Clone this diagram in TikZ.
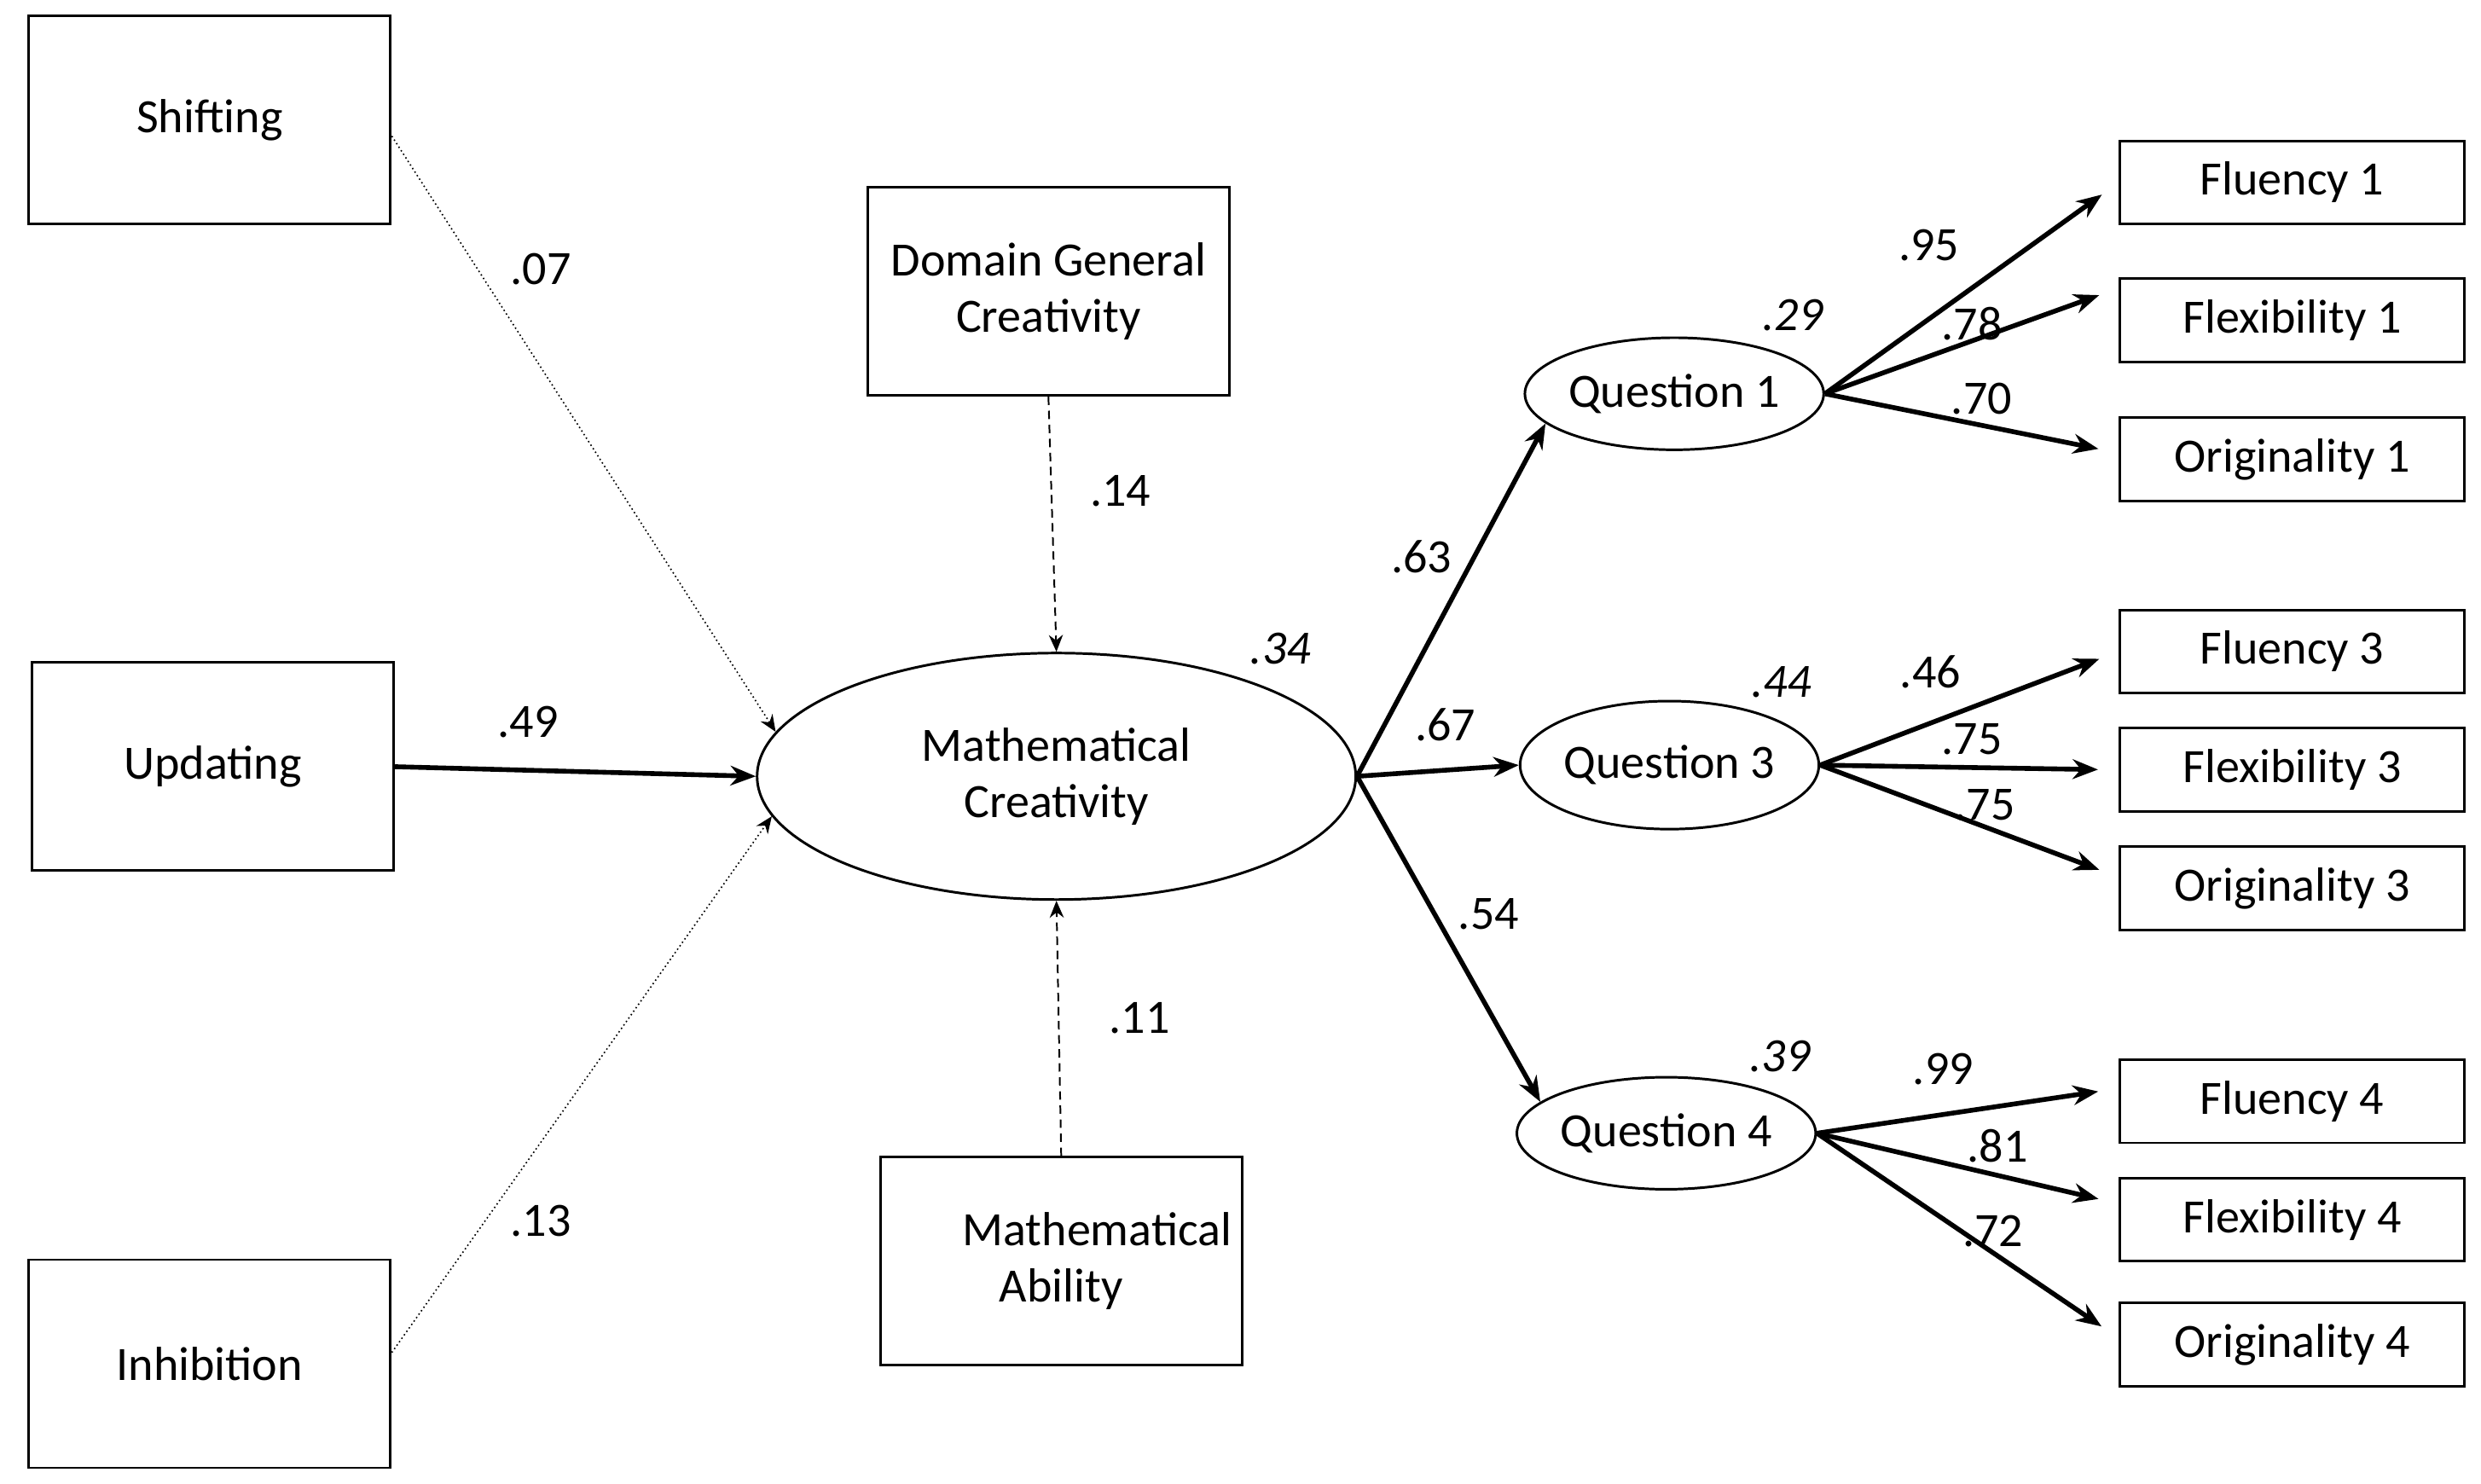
\documentclass[tikz,border=0pt]{standalone}
\usepackage{fontspec}
\setmainfont{Carlito}
\usetikzlibrary{arrows.meta,shapes.geometric,calc}
\begin{document}
\begin{tikzpicture}[x=0.2mm,y=-0.2mm,font=\fontsize{17}{20}\selectfont,
 box/.style={draw,line width=0.9pt,minimum width=45.2mm,minimum height=26mm,align=center},
 obs/.style={draw,line width=0.9pt,minimum width=43mm,minimum height=10.4mm},
 lat/.style={draw,ellipse,line width=0.9pt,minimum width=32mm,minimum height=14mm,inner sep=0pt},
 arr/.style={line width=1.7pt,-{Stealth[length=9pt,width=7pt]}},
 arrO/.style={arr,shorten >=2.6mm},
 dot/.style={line width=0.5pt,densely dotted,-{Stealth[length=6pt,width=5pt]}},
 dsh/.style={line width=0.6pt,dash pattern=on 3pt off 2pt,-{Stealth[length=6pt,width=5pt]}},
 lab/.style={inner sep=0pt}]
\useasboundingbox (0,0) rectangle (1550,927);
\node[box] (sh) at (131,75) {Shifting};
\node[box] (up) at (133,479) {Updating};
\node[box] (in) at (131,852) {Inhibition};
\node[box] (dg) at (655,182) {Domain General\\Creativity};
\node[box] (ma) at (663,788) {\hspace*{1.5em}Mathematical\\Ability};
\node[draw,ellipse,line width=0.9pt,minimum width=74.8mm,minimum height=30.8mm,align=center] (mc) at (660,485) {Mathematical\\Creativity};
\node[lat] (q1) at (1046,246) {Question 1};
\node[lat,minimum height=16mm] (q3) at (1043,478) {Question 3};
\node[lat] (q4) at (1041,708) {Question 4};
\node[obs] (f1) at (1432,114) {Fluency 1};
\node[obs] (x1) at (1432,200) {Flexibility 1};
\node[obs] (o1) at (1432,287) {Originality 1};
\node[obs] (f3) at (1432,407) {Fluency 3};
\node[obs] (x3) at (1432,481) {Flexibility 3};
\node[obs] (o3) at (1432,555) {Originality 3};
\node[obs] (f4) at (1432,688) {Fluency 4};
\node[obs] (x4) at (1432,762) {Flexibility 4};
\node[obs] (o4) at (1432,840) {Originality 4};
\draw[dot] ($(sh.east)+(0,10)$) -- (mc.171);
\draw[arr] (up.east) -- (mc.west);
\draw[dot] ($(in.east)+(0,-7)$) -- (mc.188);
\draw[dsh] (dg.south) -- (mc.north);
\draw[dsh] (ma.north) -- (mc.south);
\draw[arr] (mc.east) -- (q1.193);
\draw[arr] (mc.east) -- (q3.west);
\draw[arr] (mc.east) -- (q4.166);
\draw[arrO] (q1.east) -- (f1.west);
\draw[arrO] (q1.east) -- ($(x1.west)+(0,-20)$);
\draw[arrO] (q1.east) -- ($(o1.west)+(0,-4)$);
\draw[arrO] (q3.east) -- (f3.west);
\draw[arrO] (q3.east) -- (x3.west);
\draw[arrO] (q3.east) -- ($(o3.west)+(0,-7)$);
\draw[arrO] (q4.east) -- ($(f4.west)+(0,-8)$);
\draw[arrO] (q4.east) -- ($(x4.west)+(0,-10)$);
\draw[arrO] (q4.east) -- ($(o4.west)+(0,-4)$);
\node[lab] (l1) at (338,168) {.07};
\node[lab] (l2) at (330,451) {.49};
\node[lab] (l3) at (338,763) {.13};
\node[lab] (l4) at (700,307) {.14};
\node[lab] (l5) at (712,636) {.11};
\node[lab] (l6) at (800,405) {\itshape .34};
\node[lab] (l7) at (888,348) {.63};
\node[lab] (l8) at (903,453) {.67};
\node[lab] (l9) at (930,571) {.54};
\node[lab] (l10) at (1120,197) {\itshape .29};
\node[lab] (l11) at (1205,153) {.95};
\node[lab] (l12) at (1232,202) {.78};
\node[lab] (l13) at (1238,249) {.70};
\node[lab] (l14) at (1113,426) {\itshape .44};
\node[lab] (l15) at (1206,420) {.46};
\node[lab] (l16) at (1232,462) {.75};
\node[lab] (l17) at (1240,503) {.75};
\node[lab] (l18) at (1112,660) {\itshape .39};
\node[lab] (l19) at (1214,668) {.99};
\node[lab] (l20) at (1248,716) {.81};
\node[lab] (l21) at (1245,769) {.72};
\end{tikzpicture}
\end{document}
